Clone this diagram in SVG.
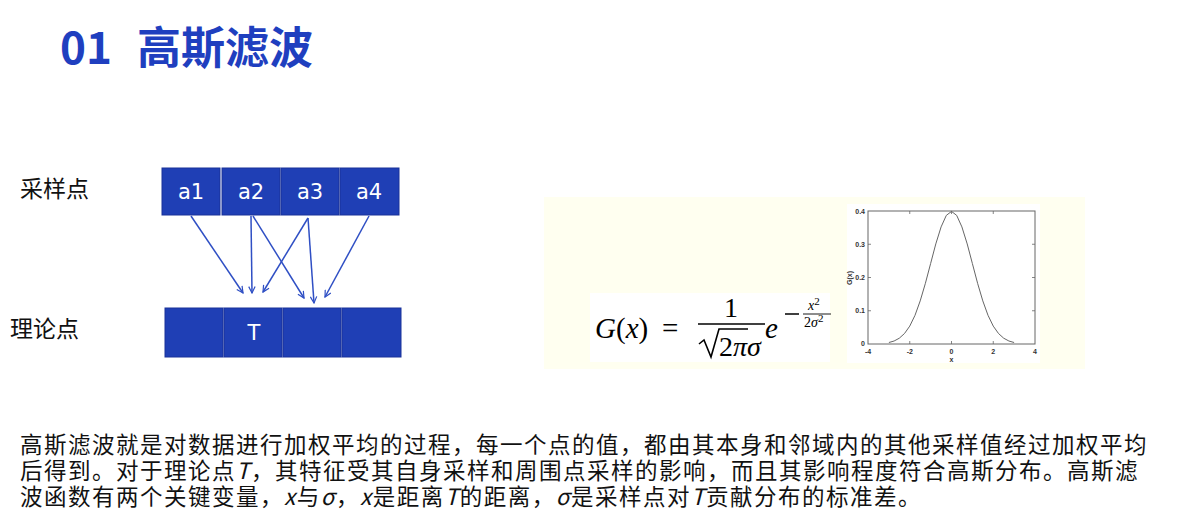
<svg xmlns="http://www.w3.org/2000/svg" width="1192" height="522" viewBox="0 0 1192 522">
<defs>
<style>
.title{font-family:"Noto Sans CJK SC","Noto Sans",sans-serif;font-weight:bold;font-size:44px;fill:#1f3fbf}
.lbl{font-family:"Noto Sans CJK SC",sans-serif;font-size:23px;fill:#111}
.box{fill:#1f3fb5;stroke:#1a3399;stroke-width:1}
.bt{font-family:"DejaVu Sans","Liberation Sans",sans-serif;font-size:21px;fill:#fff;text-anchor:middle}
.arr{stroke:#2f4fc4;stroke-width:1.5;fill:none;marker-end:url(#ah)}
.body{font-family:"Noto Sans CJK SC",sans-serif;font-size:22.5px;letter-spacing:1.5px;fill:#111}
.m{font-family:"Liberation Serif",serif;fill:#000}
.tk{font-family:"Liberation Sans",sans-serif;font-size:7px;font-weight:bold;fill:#333}
</style>
<marker id="ah" viewBox="0 0 10 10" refX="9" refY="5" markerWidth="8" markerHeight="8" orient="auto" markerUnits="userSpaceOnUse">
<path d="M1,1 L9,5 L1,9" fill="none" stroke="#2f4fc4" stroke-width="1.5"/>
</marker>
</defs>
<rect width="1192" height="522" fill="#fff"/>
<g id="title">
<text class="title" x="60" y="64">01</text>
<text class="title" x="137" y="64">高斯滤波</text>
</g>
<g id="label-sample"><text class="lbl" x="20" y="197">采样点</text></g>
<g id="label-theory"><text class="lbl" x="10" y="337">理论点</text></g>
<g id="a1"><rect class="box" x="162" y="168" width="58" height="47"/><text class="bt" x="191" y="199">a1</text></g>
<g id="a2"><rect class="box" x="222" y="168" width="58" height="47"/><text class="bt" x="251" y="199">a2</text></g>
<g id="a3"><rect class="box" x="281" y="168" width="58" height="47"/><text class="bt" x="310" y="199">a3</text></g>
<g id="a4"><rect class="box" x="340" y="168" width="59" height="47"/><text class="bt" x="369" y="199">a4</text></g>
<g id="t1"><rect class="box" x="165" y="308" width="58" height="49"/></g>
<g id="t2"><rect class="box" x="224" y="308" width="58" height="49"/><text class="bt" x="254" y="340">T</text></g>
<g id="t3"><rect class="box" x="283" y="308" width="58" height="49"/></g>
<g id="t4"><rect class="box" x="342" y="308" width="59" height="49"/></g>
<g id="connectors">
<line class="arr" x1="191" y1="216" x2="243" y2="293"/>
<line class="arr" x1="251" y1="216" x2="252" y2="293"/>
<line class="arr" x1="253" y1="216" x2="304" y2="298"/>
<line class="arr" x1="308" y1="218" x2="263" y2="292"/>
<line class="arr" x1="308" y1="218" x2="314" y2="303"/>
<line class="arr" x1="369" y1="216" x2="325" y2="297"/>
</g>
<g id="panel">
<rect x="544" y="197" width="541" height="172" fill="#fffff0"/>
<rect x="590" y="293" width="240" height="69" fill="#fff"/>
<g id="formula">
<text class="m" x="595" y="338" font-size="29"><tspan font-style="italic">G</tspan>(<tspan font-style="italic">x</tspan>)</text>
<text class="m" x="662" y="338" font-size="29">=</text>
<text class="m" x="724" y="317" font-size="28">1</text>
<line x1="698" y1="324" x2="765" y2="324" stroke="#000" stroke-width="1.4"/>
<path d="M699,344 L704,340 L711,357 L719,329 L748,329" fill="none" stroke="#000" stroke-width="1.6"/>
<text class="m" x="719" y="356" font-size="28">2<tspan font-style="italic">πσ</tspan></text>
<text class="m" x="765" y="338" font-size="29" font-style="italic">e</text>
<line x1="785" y1="314" x2="799" y2="314" stroke="#000" stroke-width="1.5"/>
<text class="m" x="808" y="310" font-size="14"><tspan font-style="italic">x</tspan><tspan dy="-5" font-size="11">2</tspan></text>
<line x1="803" y1="314" x2="831" y2="314" stroke="#000" stroke-width="0.9"/>
<text class="m" x="804" y="327" font-size="14">2<tspan font-style="italic">σ</tspan><tspan dy="-5" font-size="11">2</tspan></text>
</g>
<g id="plot">
<rect x="847" y="204" width="193" height="159" fill="#fff"/>
<rect x="868" y="211" width="167" height="133" fill="none" stroke="#666" stroke-width="1"/>
<g stroke="#666" stroke-width="0.8">
<line x1="868" y1="310.75" x2="871" y2="310.75"/><line x1="868" y1="277.5" x2="871" y2="277.5"/><line x1="868" y1="244.25" x2="871" y2="244.25"/>
<line x1="1035" y1="310.75" x2="1032" y2="310.75"/><line x1="1035" y1="277.5" x2="1032" y2="277.5"/><line x1="1035" y1="244.25" x2="1032" y2="244.25"/>
<line x1="909.75" y1="344" x2="909.75" y2="341"/><line x1="951.5" y1="344" x2="951.5" y2="341"/><line x1="993.25" y1="344" x2="993.25" y2="341"/>
<line x1="909.75" y1="211" x2="909.75" y2="214"/><line x1="951.5" y1="211" x2="951.5" y2="214"/><line x1="993.25" y1="211" x2="993.25" y2="214"/>
</g>
<polyline fill="none" stroke="#666" stroke-width="1" points="888.9,342.5 894.1,341 899.3,338.2 904.5,333.5 909.75,326.1 915,315.3 920.2,300.9 925.4,283.3 930.6,263.6 935.8,243.9 941.1,226.9 946.3,215.4 951.5,211.4 956.7,215.4 961.9,226.9 967.2,243.9 972.4,263.6 977.6,283.3 982.8,300.9 988,315.3 993.25,326.1 998.5,333.5 1003.7,338.2 1008.9,341 1014.1,342.5"/>
<g class="tk" text-anchor="end">
<text x="865" y="214">0.4</text><text x="865" y="247">0.3</text><text x="865" y="280">0.2</text><text x="865" y="313">0.1</text><text x="865" y="346">0</text>
</g>
<g class="tk" text-anchor="middle">
<text x="868" y="354">-4</text><text x="909.75" y="354">-2</text><text x="951.5" y="354">0</text><text x="993.25" y="354">2</text><text x="1035" y="354">4</text>
<text x="951.5" y="362">x</text>
<text x="0" y="0" transform="translate(852,278) rotate(-90)">G(x)</text>
</g>
</g>
</g>
<g id="body">
<text class="body" x="20" y="453">高斯滤波就是对数据进行加权平均的过程，每一个点的值，都由其本身和邻域内的其他采样值经过加权平均</text>
<text class="body" x="20" y="479">后得到。对于理论点<tspan font-style="italic">T</tspan>，其特征受其自身采样和周围点采样的影响，而且其影响程度符合高斯分布。高斯滤</text>
<text class="body" x="20" y="505">波函数有两个关键变量，<tspan font-style="italic">x</tspan>与<tspan font-style="italic">σ</tspan>，<tspan font-style="italic">x</tspan>是距离<tspan font-style="italic">T</tspan>的距离，<tspan font-style="italic">σ</tspan>是采样点对<tspan font-style="italic">T</tspan>贡献分布的标准差。</text>
</g>
</svg>
